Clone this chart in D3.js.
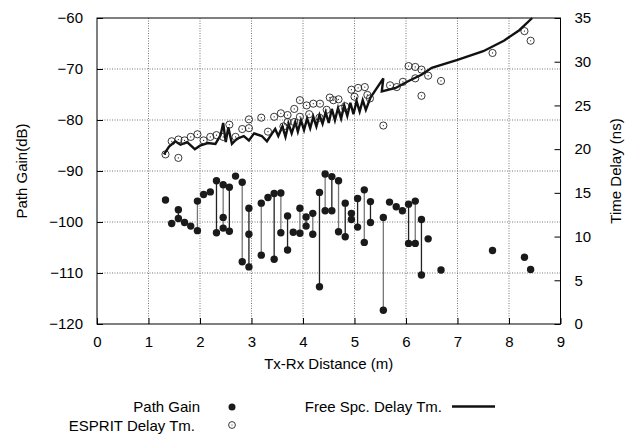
<!DOCTYPE html>
<html>
<head>
<meta charset="utf-8">
<script src="https://cdn.jsdelivr.net/npm/d3@7"></script>
<style>
  body { margin: 0; background: #fff; }
  text { font-family: "Liberation Sans", Arial, sans-serif; }
</style>
</head>
<body>
<svg id="chart" width="629" height="437"></svg>
<script>
// path gain per detected path: [distance m, gain dB]
const gainPoints = [
  [1.33, -95.7], [1.45, -100.3], [1.58, -97.6], [1.58, -99.3], [1.70, -100.1],
  [1.82, -100.8], [1.95, -101.7], [1.95, -95.9], [2.07, -94.6], [2.20, -94.1],
  [2.32, -91.9], [2.32, -102.1], [2.45, -92.7], [2.45, -99.1], [2.45, -101.2],
  [2.57, -93.2], [2.57, -101.8], [2.69, -91.0], [2.82, -92.2], [2.82, -107.8],
  [2.95, -97.3], [2.95, -102.4], [2.95, -108.8], [3.19, -96.3], [3.19, -106.5],
  [3.32, -95.2], [3.44, -94.4], [3.44, -107.3], [3.57, -94.3], [3.57, -102.1],
  [3.70, -98.8], [3.70, -105.5], [3.81, -102.0], [3.94, -97.3], [3.94, -102.2],
  [4.06, -99.0], [4.06, -100.8], [4.19, -98.3], [4.19, -102.4], [4.32, -94.2],
  [4.32, -112.7], [4.43, -90.6], [4.43, -97.8], [4.56, -91.1], [4.56, -97.8],
  [4.69, -91.9], [4.69, -101.9], [4.82, -96.3], [4.82, -102.9], [4.94, -98.3],
  [4.94, -99.5], [5.06, -95.4], [5.06, -101.0], [5.19, -93.7], [5.19, -104.0],
  [5.31, -96.0], [5.31, -100.1], [5.56, -99.1], [5.56, -117.3], [5.68, -96.1],
  [5.81, -97.0], [5.93, -97.8], [6.05, -96.5], [6.05, -104.2], [6.18, -95.9],
  [6.18, -104.2], [6.30, -99.5], [6.30, -110.4], [6.43, -103.3], [6.68, -109.4],
  [7.68, -105.6], [8.30, -106.9], [8.42, -109.3]
]

// ESPRIT estimated delay: [distance m, delay ns]
const espritPoints = [
  [1.33, 19.4], [1.45, 20.9], [1.58, 19.0], [1.58, 21.1], [1.70, 21.0],
  [1.82, 21.4], [1.95, 21.7], [2.07, 21.0], [2.20, 21.4], [2.32, 21.6],
  [2.45, 21.4], [2.57, 22.8], [2.69, 21.4], [2.82, 22.3], [2.95, 23.4],
  [2.95, 22.4], [3.19, 23.6], [3.32, 22.0], [3.44, 23.7], [3.57, 24.1],
  [3.62, 22.6], [3.70, 23.9], [3.70, 23.1], [3.83, 24.6], [3.83, 23.1],
  [3.94, 25.6], [3.94, 23.7], [4.07, 25.0], [4.12, 24.0], [4.20, 25.2],
  [4.33, 25.2], [4.32, 23.6], [4.46, 24.5], [4.52, 25.9], [4.59, 25.6],
  [4.69, 25.7], [4.75, 24.6], [4.82, 24.9], [4.94, 26.8], [5.00, 26.0],
  [5.07, 27.0], [5.20, 27.1], [5.25, 26.2], [5.30, 25.8], [5.56, 22.7],
  [5.69, 27.3], [5.82, 27.1], [5.94, 27.7], [6.05, 29.5], [6.18, 29.4],
  [6.18, 28.1], [6.30, 29.1], [6.30, 26.1], [6.43, 28.4], [6.68, 27.8],
  [7.68, 31.0], [8.30, 33.5], [8.42, 32.4]
]

// free space delay trace: [distance m, delay ns]
const freeSpacePoints = [
  [1.30, 19.4], [1.40, 20.3], [1.52, 20.9], [1.62, 20.5], [1.75, 20.8],
  [1.90, 20.0], [2.00, 20.4], [2.15, 20.7], [2.30, 20.6], [2.40, 21.6],
  [2.45, 23.0], [2.50, 20.8], [2.55, 22.5], [2.62, 20.6], [2.72, 21.2],
  [2.85, 21.5], [2.95, 21.0], [3.05, 21.8], [3.20, 21.5], [3.30, 20.9],
  [3.40, 21.8], [3.46, 22.3], [3.52, 21.5], [3.60, 22.6], [3.66, 21.4],
  [3.72, 22.9], [3.78, 21.8], [3.85, 23.1], [3.90, 22.0], [3.96, 23.3],
  [4.02, 22.2], [4.08, 23.5], [4.14, 22.4], [4.20, 23.7], [4.26, 22.6],
  [4.32, 23.9], [4.38, 22.9], [4.44, 24.2], [4.50, 23.0], [4.56, 24.6],
  [4.62, 23.3], [4.68, 24.7], [4.74, 23.5], [4.80, 25.0], [4.86, 23.8],
  [4.92, 25.3], [4.98, 24.0], [5.04, 25.5], [5.10, 24.3], [5.16, 25.6],
  [5.22, 24.5], [5.31, 25.9], [5.56, 28.1], [5.53, 26.6], [5.80, 27.0],
  [6.05, 27.8], [6.30, 28.5], [6.50, 29.3], [7.00, 30.2], [7.50, 31.2],
  [7.90, 32.4], [8.20, 33.6], [8.45, 35.0]
]

const xTicks = [0, 1, 2, 3, 4, 5, 6, 7, 8, 9]
const gainTicks = [-120, -110, -100, -90, -80, -70, -60]
const delayTicks = [0, 5, 10, 15, 20, 25, 30, 35]

const W = 629, H = 437
const m = { left: 97, top: 18, right: 68.5, bottom: 113 }
const pw = W - m.left - m.right
const ph = H - m.top - m.bottom

const svg = d3.select('#chart')
const g = svg.append('g').attr('transform', `translate(${m.left},${m.top})`)

const x = d3.scaleLinear().domain([0, 9]).range([0, pw])
const yGain = d3.scaleLinear().domain([-120, -60]).range([ph, 0])
const yDelay = d3.scaleLinear().domain([0, 35]).range([ph, 0])

// grid
g.append('g')
  .selectAll('line')
  .data(xTicks.slice(1, -1))
  .join('line')
  .attr('x1', d => x(d)).attr('x2', d => x(d))
  .attr('y1', 0).attr('y2', ph)
  .attr('stroke', '#777').attr('stroke-dasharray', '1,1.5')
g.append('g')
  .selectAll('line')
  .data(gainTicks.slice(1, -1))
  .join('line')
  .attr('y1', d => yGain(d)).attr('y2', d => yGain(d))
  .attr('x1', 0).attr('x2', pw)
  .attr('stroke', '#777').attr('stroke-dasharray', '1,1.5')

// axes with inward ticks
const styleAxis = sel => {
  sel.select('.domain').remove()
  sel.selectAll('text').attr('font-size', 15).attr('fill', '#000')
    .style('font-family', '"Liberation Sans", Arial, sans-serif')
  sel.selectAll('.tick line').attr('stroke', '#000')
}
g.append('g').attr('transform', `translate(0,${ph})`)
  .call(d3.axisBottom(x).tickValues(xTicks).tickSizeInner(-6).tickPadding(12))
  .call(styleAxis)
g.append('g')
  .call(d3.axisLeft(yGain).tickValues(gainTicks).tickSizeInner(-6).tickPadding(14))
  .call(styleAxis)
g.append('g').attr('transform', `translate(${pw},0)`)
  .call(d3.axisRight(yDelay).tickValues(delayTicks).tickSizeInner(-6).tickPadding(14))
  .call(styleAxis)

g.append('rect')
  .attr('width', pw).attr('height', ph)
  .attr('fill', 'none').attr('stroke', '#000').attr('stroke-width', 1)

// stems between paths at same distance
const groups = d3.groups(gainPoints, d => d[0]).filter(([, v]) => v.length > 1)
g.append('g')
  .selectAll('line')
  .data(groups)
  .join('line')
  .attr('x1', d => x(d[0])).attr('x2', d => x(d[0]))
  .attr('y1', d => yGain(d3.max(d[1], p => p[1])))
  .attr('y2', d => yGain(d3.min(d[1], p => p[1])))
  .attr('stroke', (d, i) => i % 2 ? '#777' : '#222')
  .attr('stroke-width', 1.3)

// free space line
g.append('path')
  .datum(freeSpacePoints)
  .attr('fill', 'none')
  .attr('stroke', '#111')
  .attr('stroke-width', 2.4)
  .attr('stroke-linejoin', 'miter')
  .attr('d', d3.line().x(d => x(d[0])).y(d => yDelay(d[1])))

// ESPRIT circles
const esp = g.append('g')
  .selectAll('g')
  .data(espritPoints)
  .join('g')
  .attr('transform', d => `translate(${x(d[0])},${yDelay(d[1])})`)
esp.append('circle').attr('r', 3.6).attr('fill', 'none').attr('stroke', '#222').attr('stroke-width', 0.9)
esp.append('circle').attr('r', 0.6).attr('fill', '#222')

// path gain dots
g.append('g')
  .selectAll('circle')
  .data(gainPoints)
  .join('circle')
  .attr('cx', d => x(d[0]))
  .attr('cy', d => yGain(d[1]))
  .attr('r', 3.7)
  .attr('fill', '#1a1a1a')

// axis titles
svg.append('text')
  .attr('x', m.left + pw / 2).attr('y', 369)
  .attr('text-anchor', 'middle').attr('font-size', 15)
  .text('Tx-Rx Distance (m)')
svg.append('text')
  .attr('transform', `translate(27,${m.top + ph / 2}) rotate(-90)`)
  .attr('text-anchor', 'middle').attr('font-size', 15)
  .text('Path Gain(dB)')
svg.append('text')
  .attr('transform', `translate(621,${m.top + ph / 2}) rotate(-90)`)
  .attr('text-anchor', 'middle').attr('font-size', 15)
  .text('Time Delay (ns)')

// legend
const leg = svg.append('g').attr('font-size', 15)
leg.append('text').attr('x', 200).attr('y', 412).attr('text-anchor', 'end').text('Path Gain')
leg.append('circle').attr('cx', 232).attr('cy', 407).attr('r', 3.5).attr('fill', '#1a1a1a')
leg.append('text').attr('x', 195).attr('y', 431).attr('text-anchor', 'end').text('ESPRIT Delay Tm.')
leg.append('circle').attr('cx', 232).attr('cy', 425).attr('r', 3.4).attr('fill', 'none').attr('stroke', '#222').attr('stroke-width', 0.9)
leg.append('circle').attr('cx', 232).attr('cy', 425).attr('r', 0.6).attr('fill', '#222')
leg.append('text').attr('x', 442).attr('y', 412).attr('text-anchor', 'end').text('Free Spc. Delay Tm.')
leg.append('line').attr('x1', 452).attr('x2', 495).attr('y1', 406.5).attr('y2', 406.5)
  .attr('stroke', '#111').attr('stroke-width', 2.4)
</script>
</body>
</html>
